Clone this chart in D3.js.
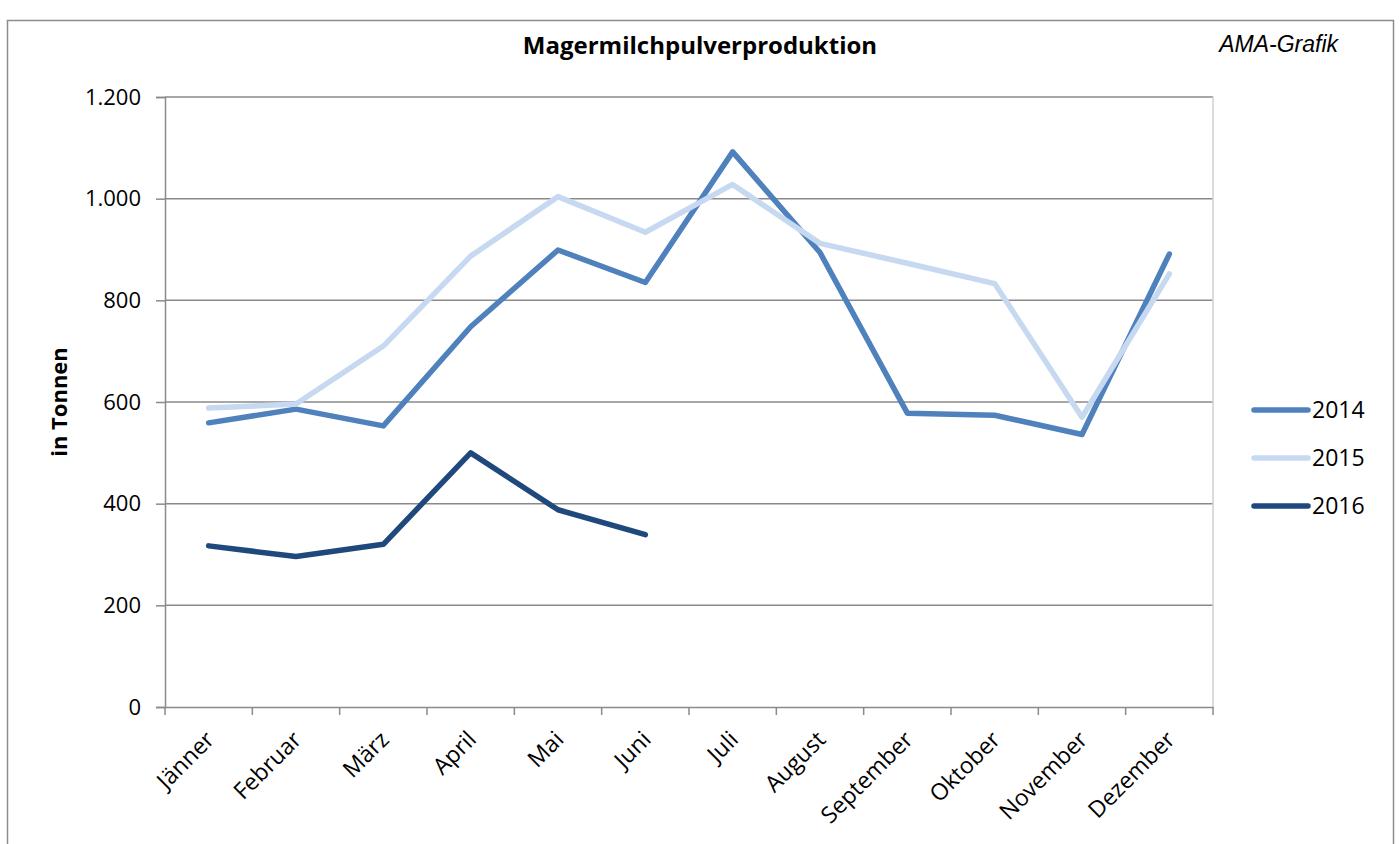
<!DOCTYPE html>
<html>
<head>
<meta charset="utf-8">
<script src="https://cdn.jsdelivr.net/npm/d3@7"></script>
<style>
  body { margin: 0; background: #fff; }
  svg text { font-family: "Open Sans", "Noto Sans", sans-serif; }
</style>
</head>
<body>
<div id="chart"></div>
<script>
const months = ["Jänner", "Februar", "März", "April", "Mai", "Juni", "Juli", "August", "September", "Oktober", "November", "Dezember"];
const values2014 = [559, 586, 553, 748, 899, 835, 1092, 894, 578, 574, 536, 891];
const values2015 = [588, 596, 710, 887, 1004, 934, 1028, 912, 873, 833, 570, 852];
const values2016 = [317, 296, 320, 500, 388, 339];
const yTicks = [0, 200, 400, 600, 800, 1000, 1200];

const seriesList = [
  { name: "2014", values: values2014, color: "#4F81BD" },
  { name: "2015", values: values2015, color: "#C6D9F1" },
  { name: "2016", values: values2016, color: "#1F497D" }
];

const width = 1400, height = 844;
const plot = { left: 165, right: 1213, top: 97, bottom: 707 };

const svg = d3.select("#chart").append("svg")
  .attr("width", width)
  .attr("height", height);

// äußerer Rahmen
svg.append("rect")
  .attr("x", 7.5).attr("y", 20.5)
  .attr("width", 1386).attr("height", 840)
  .attr("fill", "none")
  .attr("stroke", "#8c8c8c")
  .attr("stroke-width", 1.5);

const x = d3.scaleBand().domain(months).range([plot.left, plot.right]);
const y = d3.scaleLinear().domain([0, 1200]).range([plot.bottom, plot.top]);

// Gitterlinien
svg.append("g")
  .selectAll("line")
  .data(yTicks.filter(d => d > 0))
  .enter().append("line")
  .attr("x1", plot.left).attr("x2", plot.right)
  .attr("y1", d => y(d)).attr("y2", d => y(d))
  .attr("stroke", "#8a8a8a")
  .attr("stroke-width", 1.5);

// rechte Begrenzung der Zeichenfläche
svg.append("line")
  .attr("x1", plot.right).attr("x2", plot.right)
  .attr("y1", plot.top).attr("y2", plot.bottom)
  .attr("stroke", "#d0d0d0")
  .attr("stroke-width", 1.5);

// Y-Achse
const yAxis = svg.append("g")
  .attr("transform", `translate(${plot.left},0)`)
  .call(d3.axisLeft(y).tickValues(yTicks).tickSize(9).tickPadding(15)
    .tickFormat(d => d3.format(",")(d).replace(",", ".")));
yAxis.select(".domain").attr("stroke", "#8a8a8a").attr("stroke-width", 1.5);
yAxis.selectAll(".tick line").attr("stroke", "#8a8a8a").attr("stroke-width", 1.5);
yAxis.selectAll(".tick text").attr("font-size", "22px").attr("fill", "#000");

// X-Achse
const xAxis = svg.append("g")
  .attr("transform", `translate(0,${plot.bottom})`)
  .call(d3.axisBottom(x).tickSize(0).tickFormat(""));
xAxis.select(".domain").attr("stroke", "#8a8a8a").attr("stroke-width", 1.5);

// Teilstriche an den Kategoriegrenzen
svg.append("g")
  .selectAll("line")
  .data(months.concat(["end"]))
  .enter().append("line")
  .attr("x1", (d, i) => i < months.length ? x(d) : plot.right)
  .attr("x2", (d, i) => i < months.length ? x(d) : plot.right)
  .attr("y1", plot.bottom).attr("y2", plot.bottom + 8)
  .attr("stroke", "#8a8a8a")
  .attr("stroke-width", 1.5);

svg.append("g")
  .selectAll("text")
  .data(months)
  .enter().append("text")
  .attr("transform", d => `translate(${x(d) + x.bandwidth() / 2 + 7},${plot.bottom + 34}) rotate(-45)`)
  .attr("text-anchor", "end")
  .attr("font-size", "23px")
  .attr("fill", "#000")
  .text(d => d);

// Linien
const line = d3.line()
  .x((d, i) => x(months[i]) + x.bandwidth() / 2)
  .y(d => y(d));

seriesList.forEach(s => {
  svg.append("path")
    .datum(s.values)
    .attr("d", line)
    .attr("fill", "none")
    .attr("stroke", s.color)
    .attr("stroke-width", 5.5)
    .attr("stroke-linejoin", "round")
    .attr("stroke-linecap", "round");
});

// Titel
svg.append("text")
  .attr("x", 700).attr("y", 54)
  .attr("text-anchor", "middle")
  .attr("font-size", "24px")
  .attr("font-weight", "bold")
  .text("Magermilchpulverproduktion");

svg.append("text")
  .attr("x", 1338).attr("y", 52)
  .attr("text-anchor", "end")
  .attr("font-size", "23px")
  .attr("font-style", "italic")
  .style("font-family", "'Liberation Sans', Arial, sans-serif")
  .text("AMA-Grafik");

// Achsentitel
svg.append("text")
  .attr("transform", `translate(67,${(plot.top + plot.bottom) / 2}) rotate(-90)`)
  .attr("text-anchor", "middle")
  .attr("font-size", "22px")
  .attr("font-weight", "bold")
  .text("in Tonnen");

// Legende
const legend = svg.append("g")
  .attr("transform", "translate(1254, 410)");

seriesList.forEach((s, i) => {
  const g = legend.append("g").attr("transform", `translate(0, ${i * 48})`);
  g.append("line")
    .attr("x1", 0).attr("x2", 54)
    .attr("stroke", s.color)
    .attr("stroke-width", 5.5)
    .attr("stroke-linecap", "round");
  g.append("text")
    .attr("x", 58).attr("y", 8)
    .attr("font-size", "23px")
    .text(s.name);
});
</script>
</body>
</html>
